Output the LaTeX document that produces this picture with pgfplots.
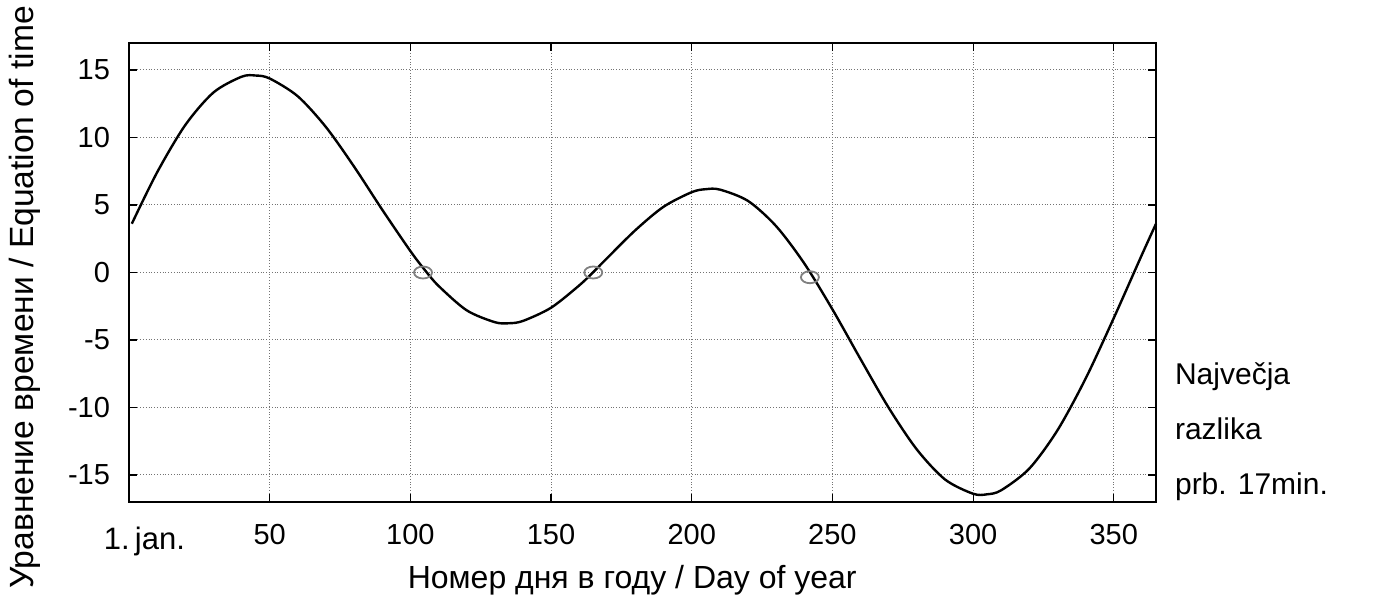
\documentclass[border=0pt]{standalone}
\usepackage{fontspec}
\setmainfont{Liberation Sans}
\usepackage{pgfplots}
\pgfplotsset{compat=1.18}
\begin{document}
\begin{tikzpicture}
\begin{axis}[
  name=ax,
  width=513.5pt, height=229.5pt, scale only axis,
  xmin=0, xmax=365, ymin=-17, ymax=17,
  xtick={50,100,...,350}, ytick={-15,-10,...,15},
  grid=major, grid style={densely dotted, black!55, line width=0.5pt},
  axis line style={line width=0.7pt},
  tick align=inside, major tick length=4pt, tick style={black, line width=0.6pt},
  /pgf/number format/assume math mode=true,
  ticklabel style={font=\fontsize{14.5}{16}\selectfont},
  xticklabel style={yshift=-7.5pt},
  yticklabel style={xshift=-6pt},
  clip=false,
]
\addplot[black, line width=1.2pt, smooth] coordinates {
(1,3.61) (10,7.42) (20,10.92) (30,13.33) (40,14.50) (45,14.59) (50,14.37)
(60,13.05) (70,10.77) (80,7.84) (90,4.65) (100,1.59) (105,0.22) (110,-0.99)
(120,-2.80) (130,-3.68) (135,-3.76) (140,-3.59) (150,-2.61) (160,-0.96)
(165,0.03) (170,1.08) (180,3.14) (190,4.87) (200,5.95) (205,6.17) (210,6.14)
(220,5.30) (230,3.43) (240,0.67) (250,-2.73) (260,-6.42) (270,-10.02)
(280,-13.11) (290,-15.33) (300,-16.39) (305,-16.43) (310,-16.13) (320,-14.52)
(330,-11.68) (340,-7.85) (350,-3.37) (360,1.32) (365,3.61)};
\addplot[only marks, mark=o, mark size=3pt, mark options={gray, xscale=1.5, line width=0.9pt}]
  coordinates {(104.5,0) (165,0) (242,-0.35)};
\node[anchor=north, font=\fontsize{15.5}{17}\selectfont] at (rel axis cs:0.015,0) [yshift=-9pt] {1.\,jan.};
\node[anchor=north west, align=left, font=\fontsize{15}{27.5}\selectfont]
  at (rel axis cs:1,0.32) [xshift=6pt] {Največja\\razlika\\prb. 17min.};
\node[font=\fontsize{16}{18}\selectfont] at (rel axis cs:0.49,0) [yshift=-39pt] {Номер дня в году / Day of year};
\node[xshift=-52pt, yshift=-12.5pt, rotate=90, font=\fontsize{16.8}{19}\selectfont] at (rel axis cs:0,0.5) {Уравнение времени / Equation of time};
\end{axis}
\pgfresetboundingbox
\path ([shift={(-64.5pt,-49.5pt)}]ax.south west) rectangle ([shift={(109.5pt,21.5pt)}]ax.north east);
\end{tikzpicture}
\end{document}
